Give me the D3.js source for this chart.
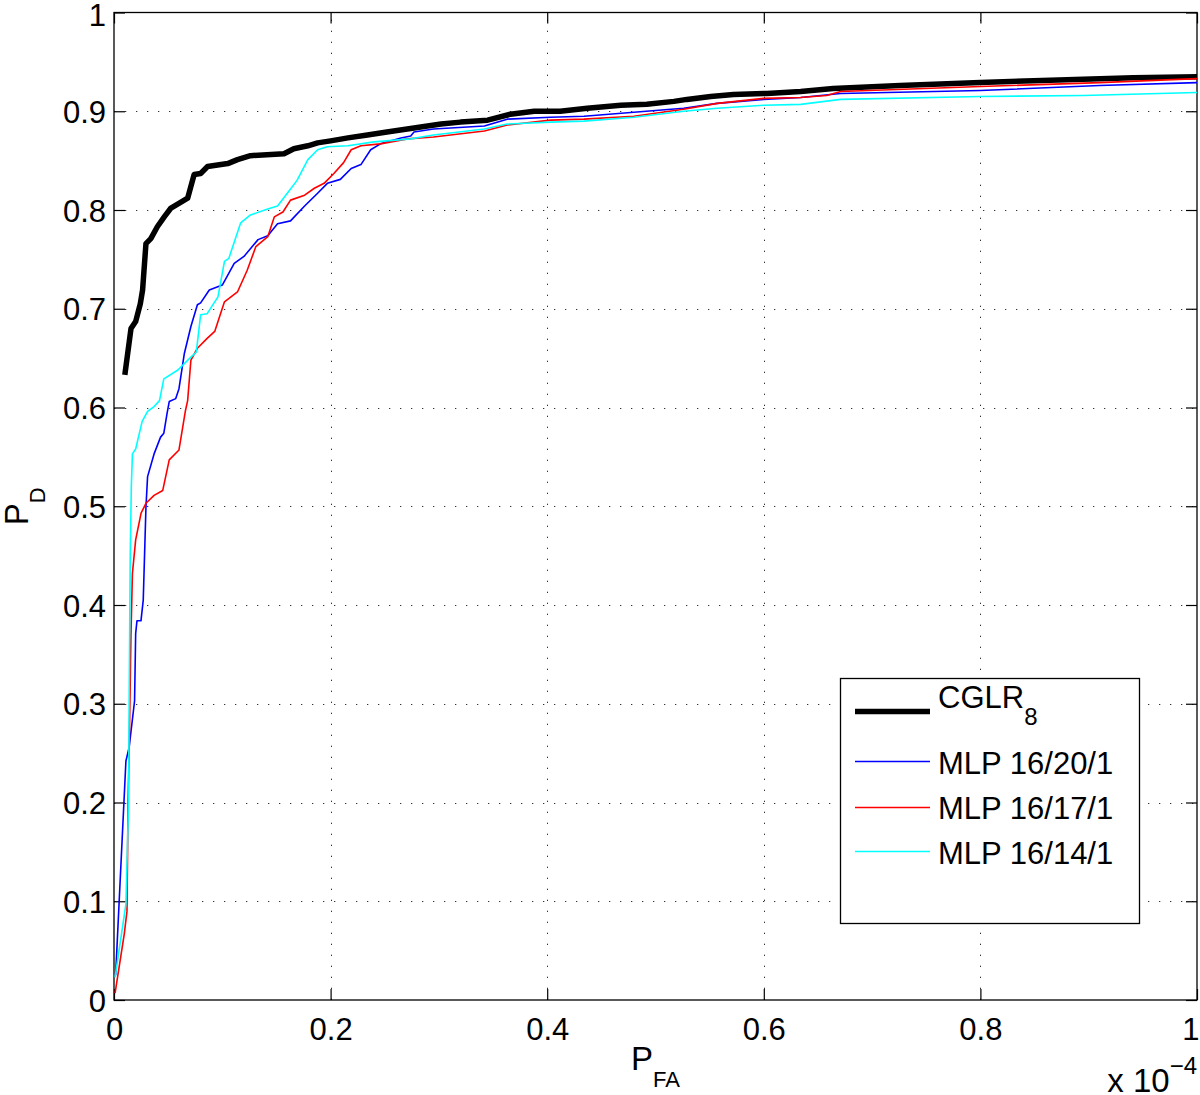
<!DOCTYPE html>
<html>
<head>
<meta charset="utf-8">
<script src="https://cdn.jsdelivr.net/npm/d3@7"></script>
<style>
  html, body { margin: 0; padding: 0; background: #fff; }
  svg { display: block; font-family: "Liberation Sans", Arial, Helvetica, sans-serif; }
</style>
</head>
<body>
<svg id="chart" width="1200" height="1095"></svg>
<script>
// ---------- data (x in units of 1e-4, y = P_D) ----------
const seriesNames = ["CGLR", "MLP 16/20/1", "MLP 16/17/1", "MLP 16/14/1"];

const cglr = [[0.010,0.633],[0.0157,0.680],[0.020,0.687],[0.0243,0.705],[0.0264,0.719],[0.0295,0.766],[0.034,0.771],[0.040,0.783],[0.0464,0.793],[0.0526,0.802],[0.0634,0.809],[0.068,0.812],[0.074,0.836],[0.080,0.837],[0.0864,0.844],[0.105,0.847],[0.114,0.851],[0.126,0.855],[0.157,0.857],[0.166,0.862],[0.179,0.865],[0.188,0.868],[0.200,0.870],[0.216,0.873],[0.234,0.876],[0.252,0.879],[0.277,0.883],[0.302,0.887],[0.320,0.889],[0.345,0.891],[0.366,0.897],[0.388,0.900],[0.412,0.900],[0.437,0.903],[0.468,0.906],[0.492,0.907],[0.517,0.910],[0.529,0.912],[0.551,0.915],[0.572,0.917],[0.603,0.918],[0.634,0.920],[0.664,0.923],[0.726,0.926],[0.800,0.929],[0.849,0.931],[0.941,0.934],[1.0,0.935]];

const mlp20 = [[0.0015,0.025],[0.011,0.242],[0.014,0.256],[0.019,0.303],[0.020,0.371],[0.0212,0.384],[0.0249,0.384],[0.027,0.405],[0.0295,0.499],[0.031,0.530],[0.037,0.553],[0.043,0.570],[0.046,0.574],[0.049,0.594],[0.051,0.606],[0.057,0.609],[0.060,0.619],[0.065,0.655],[0.071,0.682],[0.077,0.704],[0.080,0.706],[0.088,0.719],[0.100,0.724],[0.111,0.746],[0.120,0.753],[0.133,0.770],[0.142,0.774],[0.151,0.786],[0.163,0.789],[0.176,0.804],[0.188,0.817],[0.197,0.827],[0.209,0.831],[0.219,0.842],[0.228,0.846],[0.237,0.861],[0.246,0.867],[0.265,0.873],[0.274,0.875],[0.277,0.879],[0.295,0.882],[0.342,0.885],[0.363,0.892],[0.403,0.894],[0.434,0.895],[0.480,0.899],[0.526,0.903],[0.557,0.908],[0.600,0.912],[0.634,0.914],[0.671,0.918],[0.800,0.921],[0.910,0.926],[1.0,0.929]];

const mlp17 = [[0.001,0.007],[0.0095,0.067],[0.012,0.090],[0.013,0.202],[0.014,0.253],[0.0157,0.371],[0.017,0.432],[0.020,0.466],[0.025,0.493],[0.0295,0.503],[0.037,0.511],[0.045,0.516],[0.051,0.547],[0.060,0.557],[0.066,0.597],[0.068,0.607],[0.071,0.648],[0.077,0.660],[0.086,0.670],[0.093,0.677],[0.102,0.707],[0.114,0.717],[0.123,0.739],[0.131,0.763],[0.142,0.773],[0.148,0.793],[0.156,0.798],[0.163,0.810],[0.176,0.815],[0.185,0.822],[0.194,0.827],[0.203,0.837],[0.212,0.848],[0.219,0.861],[0.228,0.865],[0.246,0.867],[0.271,0.872],[0.295,0.874],[0.342,0.880],[0.363,0.886],[0.403,0.891],[0.434,0.892],[0.480,0.895],[0.526,0.902],[0.557,0.908],[0.600,0.913],[0.634,0.914],[0.658,0.916],[0.671,0.920],[0.800,0.925],[0.910,0.929],[1.0,0.933]];

const mlp14 = [[0.001,0.023],[0.011,0.097],[0.0135,0.200],[0.014,0.303],[0.015,0.450],[0.016,0.520],[0.017,0.553],[0.020,0.558],[0.026,0.586],[0.031,0.596],[0.037,0.601],[0.042,0.607],[0.046,0.629],[0.059,0.638],[0.071,0.651],[0.076,0.656],[0.080,0.694],[0.086,0.695],[0.096,0.712],[0.102,0.748],[0.106,0.751],[0.117,0.787],[0.126,0.795],[0.142,0.801],[0.151,0.804],[0.160,0.817],[0.169,0.830],[0.179,0.851],[0.188,0.861],[0.197,0.864],[0.216,0.865],[0.240,0.869],[0.274,0.872],[0.295,0.876],[0.342,0.882],[0.363,0.887],[0.403,0.889],[0.434,0.890],[0.480,0.894],[0.526,0.900],[0.557,0.903],[0.600,0.906],[0.634,0.907],[0.671,0.912],[0.800,0.915],[0.895,0.916],[1.0,0.919]];

const xTicks = [0, 0.2, 0.4, 0.6, 0.8, 1];
const xTickLabels = ["0", "0.2", "0.4", "0.6", "0.8", "1"];
const yTicks = [0, 0.1, 0.2, 0.3, 0.4, 0.5, 0.6, 0.7, 0.8, 0.9, 1];
const yTickLabels = ["0", "0.1", "0.2", "0.3", "0.4", "0.5", "0.6", "0.7", "0.8", "0.9", "1"];

// ---------- layout ----------
const L = 114, R = 1197, T = 12.5, B = 1000;
const svg = d3.select("#chart");
const x = d3.scaleLinear().domain([0, 1]).range([L, R]);
const y = d3.scaleLinear().domain([0, 1]).range([B, T]);

// grid
const grid = svg.append("g").attr("stroke", "#333").attr("stroke-width", 1)
  .attr("stroke-dasharray", "1.3,9.7");
grid.selectAll("line.gx").data(xTicks.filter(d => d > 0 && d < 1)).join("line")
  .attr("x1", d => Math.round(x(d)) + 0.5).attr("x2", d => Math.round(x(d)) + 0.5)
  .attr("y1", B).attr("y2", T);
grid.selectAll("line.gy").data(yTicks.filter(d => d > 0 && d < 1)).join("line")
  .attr("y1", d => Math.round(y(d)) + 0.5).attr("y2", d => Math.round(y(d)) + 0.5)
  .attr("x1", L).attr("x2", R);

// axes with inner ticks on all 4 sides
const tk = 11;
function styleAxis(g) {
  g.select(".domain").remove();
  g.selectAll(".tick line").attr("stroke", "#000").attr("stroke-width", 1.2);
}
svg.append("g").attr("transform", `translate(0,${B})`)
  .call(d3.axisBottom(x).tickValues(xTicks).tickSize(-tk).tickFormat((d, i) => xTickLabels[i]).tickPadding(20))
  .call(styleAxis)
  .call(g => g.selectAll(".tick text").attr("font-size", 31).attr("fill", "#000")
    .attr("font-family", "Liberation Sans, Arial, sans-serif").attr("dy", null).attr("y", 40))
  .call(g => g.selectAll(".tick text").filter(d => d === 1).attr("text-anchor", "end").attr("x", 2));
svg.append("g").attr("transform", `translate(0,${T})`)
  .call(d3.axisTop(x).tickValues(xTicks).tickSize(-tk).tickFormat(""))
  .call(styleAxis);
svg.append("g").attr("transform", `translate(${L},0)`)
  .call(d3.axisLeft(y).tickValues(yTicks).tickSize(-tk).tickFormat((d, i) => yTickLabels[i]))
  .call(styleAxis)
  .call(g => g.selectAll(".tick text").attr("font-size", 31).attr("fill", "#000")
    .attr("font-family", "Liberation Sans, Arial, sans-serif").attr("x", -8).attr("dy", "0.36em"))
  .call(g => g.selectAll(".tick text").filter(d => d === 1).attr("dy", "0.42em"));
svg.append("g").attr("transform", `translate(${R},0)`)
  .call(d3.axisRight(y).tickValues(yTicks).tickSize(-tk).tickFormat(""))
  .call(styleAxis);

// frame
svg.append("rect").attr("x", L).attr("y", T).attr("width", R - L).attr("height", B - T)
  .attr("fill", "none").attr("stroke", "#000").attr("stroke-width", 1.3);

// clip
svg.append("clipPath").attr("id", "plotclip").append("rect")
  .attr("x", L).attr("y", T).attr("width", R - L).attr("height", B - T);

const line = d3.line().x(d => x(d[0])).y(d => y(d[1]));
const series = [
  { data: cglr, color: "#000000", width: 5.5 },
  { data: mlp20, color: "#0000ff", width: 1.6 },
  { data: mlp17, color: "#ff0000", width: 1.6 },
  { data: mlp14, color: "#00ffff", width: 1.6 }
];
const lines = svg.append("g").attr("clip-path", "url(#plotclip)");
series.forEach(s => {
  lines.append("path").datum(s.data).attr("d", line)
    .attr("fill", "none").attr("stroke", s.color).attr("stroke-width", s.width)
    .attr("stroke-linejoin", "round").attr("stroke-linecap", "butt");
});

// axis labels
const xl = svg.append("text").attr("x", (L + R) / 2).attr("y", 1070).attr("text-anchor", "middle")
  .attr("font-size", 33).attr("fill", "#000");
xl.append("tspan").text("P");
xl.append("tspan").attr("font-size", 22).attr("dy", 17).text("FA");

const yl = svg.append("text").attr("transform", `translate(28,${(T + B) / 2}) rotate(-90)`)
  .attr("text-anchor", "middle").attr("font-size", 33).attr("fill", "#000");
yl.append("tspan").text("P");
yl.append("tspan").attr("font-size", 22).attr("dy", 17).text("D");

// exponent label
const ex = svg.append("text").attr("x", R).attr("y", 1091.5).attr("text-anchor", "end")
  .attr("font-size", 33).attr("fill", "#000");
ex.append("tspan").text("x 10");
ex.append("tspan").attr("font-size", 24).attr("dy", -18).text("\u22124");

// legend
const lg = svg.append("g");
lg.append("rect").attr("x", 840.5).attr("y", 678.5).attr("width", 299).attr("height", 245)
  .attr("fill", "#fff").attr("stroke", "#000").attr("stroke-width", 1.3);
const legendRows = [
  { name: seriesNames[0], sub: "8", color: "#000000", width: 5.5, ly: 711.5, ty: 708 },
  { name: seriesNames[1], sub: null, color: "#0000ff", width: 1.6, ly: 761.5, ty: 774 },
  { name: seriesNames[2], sub: null, color: "#ff0000", width: 1.6, ly: 807.5, ty: 819 },
  { name: seriesNames[3], sub: null, color: "#00ffff", width: 1.6, ly: 851.5, ty: 863.5 }
];
legendRows.forEach(r => {
  lg.append("line").attr("x1", 855).attr("x2", 930).attr("y1", r.ly).attr("y2", r.ly)
    .attr("stroke", r.color).attr("stroke-width", r.width);
  const t = lg.append("text").attr("x", 938).attr("y", r.ty).attr("font-size", 31).attr("fill", "#000");
  t.append("tspan").text(r.name);
  if (r.sub) t.append("tspan").attr("font-size", 24).attr("dy", 17).text(r.sub);
});
</script>
</body>
</html>
